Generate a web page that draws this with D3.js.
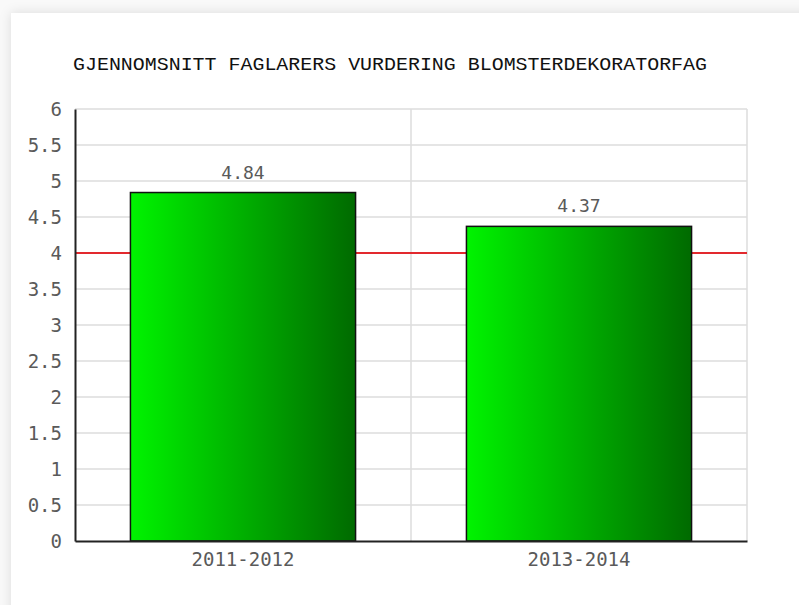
<!DOCTYPE html>
<html>
<head>
<meta charset="utf-8">
<script src="https://cdn.jsdelivr.net/npm/d3@7"></script>
<style>
  body { margin: 0; background: #fff; }
  svg { display: block; }
</style>
</head>
<body>
<svg id="chart"></svg>
<script>
// chart data
var title = "GJENNOMSNITT FAGLARERS VURDERING BLOMSTERDEKORATORFAG";
var categories = ["2011-2012", "2013-2014"];
var values = [4.84, 4.37];
var labels = ["4.84", "4.37"];
var yTicks = [0, 0.5, 1, 1.5, 2, 2.5, 3, 3.5, 4, 4.5, 5, 5.5, 6];
var refLine = 4;

var width = 799, height = 605;
var margin = { top: 109, right: 52, bottom: 64, left: 75 };
var font = "'DejaVu Sans Mono', 'Liberation Mono', monospace";

var svg = d3.select("#chart").attr("width", width).attr("height", height);
var defs = svg.append("defs");

// frame shadow
var sh = defs.append("filter").attr("id", "shadow")
  .attr("x", "-5%").attr("y", "-5%").attr("width", "110%").attr("height", "110%");
sh.append("feGaussianBlur").attr("in", "SourceAlpha").attr("stdDeviation", 6);
sh.append("feOffset").attr("dx", 0).attr("dy", 0).attr("result", "b");
sh.append("feFlood").attr("flood-color", "#000").attr("flood-opacity", 0.12);
sh.append("feComposite").attr("in2", "b").attr("operator", "in");
var m = sh.append("feMerge");
m.append("feMergeNode");
m.append("feMergeNode").attr("in", "SourceGraphic");

svg.append("rect").attr("width", width).attr("height", height).attr("fill", "#f9f9f9");
svg.append("rect").attr("x", 11).attr("y", 13).attr("width", width + 20).attr("height", height + 20)
  .attr("fill", "#fff").attr("filter", "url(#shadow)");

var grad = defs.append("linearGradient").attr("id", "barGrad")
  .attr("x1", "0%").attr("x2", "100%").attr("y1", "0%").attr("y2", "0%");
grad.append("stop").attr("offset", "0%").attr("stop-color", "#00f400");
grad.append("stop").attr("offset", "100%").attr("stop-color", "#006a00");

var x = d3.scaleBand()
  .domain(categories)
  .range([margin.left, width - margin.right])
  .paddingInner(0.33)
  .paddingOuter(0.165);

var xBand = d3.scaleBand()
  .domain(categories)
  .range([margin.left, width - margin.right]);

var y = d3.scaleLinear()
  .domain([0, 6])
  .range([height - margin.bottom, margin.top]);

// title
svg.append("text")
  .attr("x", 73).attr("y", 70)
  .attr("font-family", "'Liberation Mono', monospace").attr("font-size", 19)
  .attr("textLength", 634).attr("lengthAdjust", "spacingAndGlyphs")
  .attr("fill", "#111")
  .text(title);

// grid
var grid = svg.append("g");
grid.selectAll("line.h")
  .data(yTicks.filter(function (d) { return d > 0; }))
  .join("line").attr("class", "h")
  .attr("x1", margin.left).attr("x2", width - margin.right)
  .attr("y1", function (d) { return y(d); }).attr("y2", function (d) { return y(d); })
  .attr("stroke", "#dddddd").attr("stroke-width", 1.5);
grid.selectAll("line.v")
  .data(categories)
  .join("line").attr("class", "v")
  .attr("x1", function (d) { return xBand(d) + xBand.bandwidth(); })
  .attr("x2", function (d) { return xBand(d) + xBand.bandwidth(); })
  .attr("y1", y(6)).attr("y2", y(0))
  .attr("stroke", "#dddddd").attr("stroke-width", 1.5);

// reference line
svg.append("line")
  .attr("x1", margin.left).attr("x2", width - margin.right)
  .attr("y1", y(refLine)).attr("y2", y(refLine))
  .attr("stroke", "#e2292e").attr("stroke-width", 2);

// bars
svg.selectAll("rect.bar")
  .data(values)
  .join("rect").attr("class", "bar")
  .attr("x", function (d, i) { return x(categories[i]); })
  .attr("width", x.bandwidth())
  .attr("y", function (d) { return y(d); })
  .attr("height", function (d) { return y(0) - y(d); })
  .attr("fill", "url(#barGrad)")
  .attr("stroke", "#111").attr("stroke-width", 1.5);

// value labels
svg.selectAll("text.val")
  .data(values)
  .join("text").attr("class", "val")
  .attr("x", function (d, i) { return x(categories[i]) + x.bandwidth() / 2; })
  .attr("y", function (d) { return y(d) - 14; })
  .attr("text-anchor", "middle")
  .attr("font-family", font).attr("font-size", 18)
  .attr("fill", "#5a5a5a")
  .text(function (d, i) { return labels[i]; });

// y axis
var yAxis = svg.append("g")
  .attr("transform", "translate(" + margin.left + ",0)")
  .call(d3.axisLeft(y).tickValues(yTicks).tickSize(0).tickPadding(13)
    .tickFormat(function (d) { return String(d); }));
yAxis.select(".domain").attr("stroke", "#222").attr("stroke-width", 2);
yAxis.selectAll("text")
  .attr("font-family", font).attr("font-size", 19).attr("fill", "#5a5a5a");

// x axis
var xAxis = svg.append("g")
  .attr("transform", "translate(0," + (height - margin.bottom) + ")")
  .call(d3.axisBottom(xBand).tickSize(0).tickPadding(12));
xAxis.select(".domain").attr("stroke", "#222").attr("stroke-width", 2);
xAxis.selectAll("text")
  .attr("font-family", font).attr("font-size", 19).attr("fill", "#5a5a5a");
</script>
</body>
</html>
